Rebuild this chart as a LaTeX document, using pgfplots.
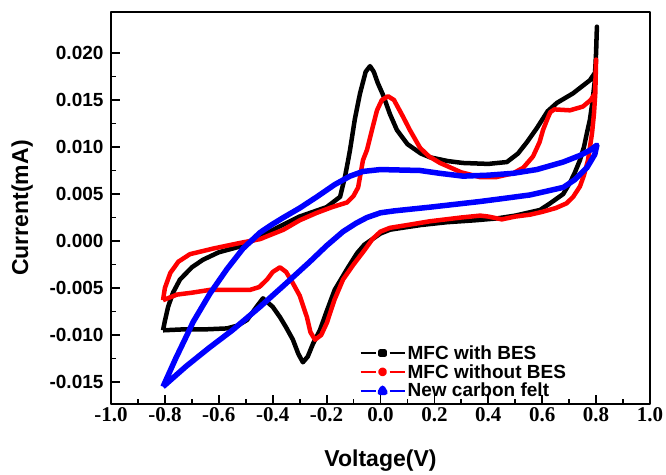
\documentclass[border=0pt]{standalone}
\usepackage{fontspec}
\setmainfont{Liberation Sans}
\newfontfamily\timesfont{Liberation Serif}
\usepackage{pgfplots}
\pgfplotsset{compat=1.18}

\begin{document}
\begin{tikzpicture}
\begin{axis}[
    scale only axis,
    width=539pt, height=392pt,
    xmin=-1, xmax=1,
    ymin=-0.01734, ymax=0.02436,
    xtick={-1,-0.8,-0.6,-0.4,-0.2,0,0.2,0.4,0.6,0.8,1},
    ytick={-0.015,-0.01,-0.005,0,0.005,0.01,0.015,0.02},
    minor x tick num=1, minor y tick num=1,
    tick align=inside,
    xtick pos=bottom, ytick pos=left,
    major tick length=9pt, minor tick length=5pt,
    every tick/.style={black, line width=1.8pt},
    axis line style={line width=2.5pt},
    scaled y ticks=false,
    /pgf/number format/assume math mode=true,
    xticklabel style={font=\fontsize{21}{24}\selectfont\timesfont\bfseries,
        /pgf/number format/.cd, fixed, fixed zerofill, precision=1},
    yticklabel style={font=\fontsize{19}{21}\selectfont\bfseries, xshift=-4pt,
        /pgf/number format/.cd, fixed, fixed zerofill, precision=3},
    xlabel={Voltage(V)},
    ylabel={Current(mA)},
    label style={font=\fontsize{23}{26}\selectfont\bfseries},
    xlabel style={at={(axis description cs:0.5,-0.1454)}, anchor=center},
    ylabel style={at={(axis description cs:-0.165,0.5)}, anchor=center},
    legend style={draw=none, fill=none, at={(axis description cs:0.455,0.16)},
        anchor=north west, font=\fontsize{19}{21}\selectfont\bfseries,
        row sep=-0.5pt, nodes={inner sep=2pt}},
    legend cell align=left,
    line join=round,
]
\addplot[black, line width=4.5pt,
  legend image code/.code={
    \draw[black, line width=2.2pt] (0pt,0pt) -- (15pt,0pt) (29pt,0pt) -- (44pt,0pt);
    \fill[black] (20.2pt,-1.8pt) rectangle (23.8pt,1.8pt);}]
coordinates {
(-0.807,-0.0095) (-0.800,-0.0085) (-0.788,-0.0070) (-0.770,-0.0055) (-0.744,-0.0041)
(-0.700,-0.0028) (-0.659,-0.0020) (-0.600,-0.0012) (-0.510,-0.0005) (-0.450,0.0004)
(-0.384,0.0014) (-0.300,0.0026) (-0.200,0.0036) (-0.150,0.0047) (-0.132,0.0068)
(-0.120,0.0086) (-0.113,0.0097) (-0.095,0.0130) (-0.076,0.0157) (-0.055,0.0180)
(-0.039,0.0186) (-0.025,0.0180) (-0.010,0.0168) (0.010,0.0155) (0.035,0.0135)
(0.061,0.0118) (0.100,0.0103) (0.150,0.0093) (0.184,0.0089) (0.250,0.0085)
(0.306,0.0083) (0.400,0.0082) (0.469,0.0084) (0.510,0.0093) (0.543,0.0105)
(0.580,0.0120) (0.620,0.0138) (0.655,0.0147) (0.714,0.0157) (0.777,0.0171)
(0.796,0.0179) (0.800,0.0200) (0.803,0.0228) (0.798,0.0185) (0.795,0.0170)
(0.785,0.0145) (0.777,0.0129) (0.766,0.0115) (0.755,0.0100) (0.740,0.0086)
(0.720,0.0072) (0.703,0.0062) (0.678,0.0050) (0.629,0.0040) (0.592,0.0033)
(0.500,0.0027) (0.432,0.0024) (0.350,0.0022) (0.247,0.0020) (0.150,0.0017)
(0.080,0.0014) (0.035,0.0012) (0.000,0.0008) (-0.030,0.0002) (-0.060,-0.0004)
(-0.087,-0.0013) (-0.120,-0.0028) (-0.170,-0.0052) (-0.200,-0.0075) (-0.225,-0.0095)
(-0.250,-0.0109) (-0.270,-0.0123) (-0.288,-0.0129) (-0.305,-0.0120) (-0.325,-0.0105)
(-0.350,-0.0092) (-0.373,-0.0081) (-0.400,-0.0070) (-0.436,-0.0061) (-0.460,-0.0070)
(-0.495,-0.0084) (-0.530,-0.0090) (-0.570,-0.0093) (-0.650,-0.0094) (-0.730,-0.0094)
(-0.807,-0.0095)
};
\addlegendentry{MFC with BES}
\addplot[red, line width=4.5pt,
  legend image code/.code={
    \draw[red, line width=2.2pt] (0pt,0pt) -- (15pt,0pt) (29pt,0pt) -- (44pt,0pt);
    \fill[red] (22pt,0pt) circle (2.1pt);}]
coordinates {
(-0.807,-0.0063) (-0.800,-0.0050) (-0.780,-0.0034) (-0.750,-0.0022) (-0.707,-0.0014)
(-0.620,-0.0008) (-0.520,-0.0002) (-0.447,0.0002) (-0.360,0.0012) (-0.300,0.0022)
(-0.236,0.0030) (-0.180,0.0036) (-0.124,0.0041) (-0.100,0.0048) (-0.083,0.0057)
(-0.065,0.0086) (-0.050,0.0097) (-0.030,0.0120) (-0.013,0.0139) (0.005,0.0150)
(0.028,0.0154) (0.050,0.0150) (0.084,0.0132) (0.109,0.0118) (0.147,0.0099)
(0.180,0.0090) (0.221,0.0083) (0.300,0.0073) (0.369,0.0068) (0.430,0.0068)
(0.492,0.0072) (0.530,0.0078) (0.566,0.0090) (0.590,0.0105) (0.603,0.0118)
(0.618,0.0129) (0.630,0.0137) (0.645,0.0140) (0.703,0.0139) (0.751,0.0143)
(0.780,0.0150) (0.796,0.0157) (0.800,0.0193) (0.797,0.0157) (0.792,0.0135)
(0.785,0.0115) (0.770,0.0086) (0.755,0.0070) (0.740,0.0058) (0.715,0.0047)
(0.690,0.0040) (0.650,0.0035) (0.600,0.0031) (0.555,0.0028) (0.500,0.0026)
(0.450,0.0023) (0.400,0.0026) (0.370,0.0027) (0.300,0.0025) (0.184,0.0021)
(0.100,0.0017) (0.035,0.0014) (0.000,0.0010) (-0.030,0.0002) (-0.060,-0.0010)
(-0.100,-0.0025) (-0.139,-0.0041) (-0.170,-0.0062) (-0.199,-0.0087) (-0.220,-0.0100)
(-0.243,-0.0105) (-0.260,-0.0097) (-0.273,-0.0081) (-0.300,-0.0058) (-0.325,-0.0045)
(-0.350,-0.0033) (-0.373,-0.0028) (-0.400,-0.0033) (-0.421,-0.0041) (-0.450,-0.0049)
(-0.484,-0.0052) (-0.560,-0.0052) (-0.633,-0.0052) (-0.700,-0.0055) (-0.755,-0.0057)
(-0.807,-0.0063)
};
\addlegendentry{MFC without BES}
\addplot[blue, line width=5.5pt,
  legend image code/.code={
    \draw[blue, line width=2.2pt] (0pt,0pt) -- (15pt,0pt) (29pt,0pt) -- (44pt,0pt);
    \fill[blue] (19.6pt,-1.8pt) -- (24.4pt,-1.8pt) -- (22pt,2.4pt) -- cycle;}]
coordinates {
(-0.807,-0.0155) (-0.760,-0.0125) (-0.718,-0.0100) (-0.695,-0.0086) (-0.633,-0.0056)
(-0.570,-0.0030) (-0.510,-0.0008) (-0.447,0.0009) (-0.400,0.0018) (-0.360,0.0025)
(-0.300,0.0035) (-0.236,0.0047) (-0.170,0.0060) (-0.113,0.0069) (-0.065,0.0074)
(0.000,0.0076) (0.147,0.0075) (0.220,0.0072) (0.306,0.0069) (0.400,0.0070)
(0.492,0.0072) (0.580,0.0076) (0.678,0.0084) (0.740,0.0091) (0.780,0.0097)
(0.803,0.0102) (0.795,0.0092) (0.766,0.0078) (0.720,0.0065) (0.678,0.0057)
(0.555,0.0049) (0.450,0.0045) (0.369,0.0042) (0.184,0.0036) (0.050,0.0032)
(0.000,0.0030) (-0.050,0.0025) (-0.090,0.0019) (-0.139,0.0010) (-0.200,-0.0005)
(-0.262,-0.0022) (-0.350,-0.0045) (-0.447,-0.0070) (-0.550,-0.0095) (-0.633,-0.0113)
(-0.720,-0.0133) (-0.807,-0.0155)
};
\addlegendentry{New carbon felt}
\end{axis}
\pgfresetboundingbox
\path (current axis.south west) ++(-111pt,-70pt) rectangle ([xshift=16pt,yshift=12pt]current axis.north east);
\end{tikzpicture}
\end{document}
